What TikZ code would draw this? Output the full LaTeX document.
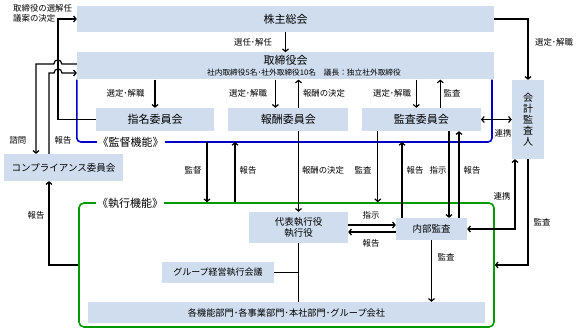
\documentclass[tikz,border=0pt]{standalone}
\usepackage{fontspec}
\setmainfont{Noto Sans CJK JP}
\usetikzlibrary{arrows.meta,positioning}
\definecolor{boxblue}{RGB}{207,221,238}
\definecolor{lineblue}{RGB}{0,0,200}
\definecolor{linegreen}{RGB}{0,153,0}

\begin{document}
\begin{tikzpicture}[x=1pt,y=-1pt,
    box/.style={fill=boxblue,inner sep=0pt,font=\fontsize{11}{12}\selectfont},
    lbl/.style={inner sep=0pt,font=\fontsize{8.4}{9.4}\selectfont},
    arr/.style={line width=1.2pt,-{Straight Barb[length=2.5pt,width=6pt]}},
    arr2/.style={line width=1.2pt,{Straight Barb[length=2.5pt,width=6pt]}-{Straight Barb[length=2.5pt,width=6pt]}},
    ln/.style={line width=1.2pt}]
    \useasboundingbox (0,0) rectangle (578,334);
    \node[box,minimum width=417pt,minimum height=26pt] (agm) at (285.5,19) {株主総会};
    \node[box,minimum width=417pt,minimum height=27pt,below=20pt of agm] (board) {};
    \node[inner sep=0pt,font=\fontsize{11}{12}\selectfont] (boardt) at (285.5,60) {取締役会};
    \node[inner sep=0pt,font=\fontsize{7.7}{8}\selectfont] (boards) at (304,72.5) {社内取締役5名･社外取締役10名　議長：独立社外取締役};
    \node[box,minimum width=118pt,minimum height=23pt] (nom) at (155,119.5) {指名委員会};
    \node[box,minimum width=120pt,minimum height=23pt,right=14pt of nom] (rem) {報酬委員会};
    \node[box,minimum width=119pt,minimum height=23pt,right=13pt of rem] (aud) {監査委員会};
    \node[box,minimum width=32pt,minimum height=79pt,align=center,font=\fontsize{10}{11}\selectfont] (acc) at (528,119.5) {会\\計\\監\\査\\人};
    \node[box,minimum width=119pt,minimum height=27pt,font=\fontsize{9.5}{11}\selectfont] (comp) at (63.5,167.5) {コンプライアンス委員会};
    \coordinate (sbl) at (77,142);
    \coordinate (sbr) at (492,142);
    \draw[lineblue,line width=1.6pt,rounded corners=4pt] (board.south west) |- (sbr) -- (sbr |- board.south);
    \node[fill=white,inner sep=1pt,font=\fontsize{11}{12}\selectfont] (supl) at (130.5,142) {《監督機能》};
    \node[draw=linegreen,line width=1.6pt,rounded corners=5pt,minimum width=415pt,minimum height=124pt] (exec) at (286.5,265) {};
    \node[fill=white,inner sep=1pt,font=\fontsize{11}{12}\selectfont] (execl) at (130,203) {《執行機能》};
    \node[box,minimum width=99pt,minimum height=31pt,align=center,font=\fontsize{9.5}{11.5}\selectfont] (ceo) at (298.5,227.5) {代表執行役\\執行役};
    \node[box,minimum width=71pt,minimum height=22pt,font=\fontsize{9.5}{11}\selectfont] (ia) at (431.5,229) {内部監査};
    \node[box,minimum width=112pt,minimum height=21pt,font=\fontsize{9}{10}\selectfont] (gem) at (218,272.5) {グループ経営執行会議};
    \node[box,minimum width=397pt,minimum height=21pt,font=\fontsize{9.2}{10}\selectfont] (dept) at (286.5,312.5) {各機能部門･各事業部門･本社部門･グループ会社};
    \coordinate (kd) at (207,142);
    \coordinate (kh) at (235,142);
    \coordinate (jpa) at (58,64);
    \coordinate (jpb) at (54,73);
    \draw[arr] (agm.south) -- (board.north);
    \draw[arr] (agm.east) -| (acc.north);
    \draw[arr] (board.south -| nom.north) -- (nom.north);
    \draw[arr] ([xshift=-13pt]rem.north |- board.south) -- ([xshift=-13pt]rem.north);
    \draw[arr] (rem.north -| ceo.north) -- (board.south -| ceo.north);
    \draw[arr] ([xshift=-5pt]aud.north |- board.south) -- ([xshift=-5pt]aud.north);
    \draw[arr] ([xshift=19pt]aud.north) -- ([xshift=19pt]aud.north |- board.south);
    \draw[arr2] (aud.east) -- (aud.east -| acc.west);
    \draw[arr] (nom.west) -| (jpa) -- (jpa |- agm.west) -- (agm.west);
    \draw[arr] (board.west |- jpa) -- ++(-15,0) .. controls +(0,-5.3) and +(0,-5.3) .. ++(-8,0) -| ([xshift=-27.5pt]comp.north);
    \draw[arr] ([xshift=-14.5pt]comp.north) |- (jpb) .. controls +(0,-5.3) and +(0,-5.3) .. ++(8,0) -- (board.west |- jpb);
    \draw[arr] (exec.west) -| ([xshift=-14.5pt]comp.south);
    \draw[arr] (kd) -- (kd |- exec.north);
    \draw[arr] (kh |- exec.north) -- (kh);
    \draw[arr] (rem.south -| ceo.north) -- (ceo.north);
    \draw[arr] ([xshift=-43.5pt]aud.south) -- ([xshift=-43.5pt]aud.south |- exec.north);
    \draw[arr] ([xshift=-29.5pt]ia.north) -- ([xshift=-29.5pt]ia.north |- sbl);
    \draw[arr] ([xshift=17.5pt]ia.north |- aud.south) -- ([xshift=17.5pt]ia.north);
    \draw[arr] ([xshift=27.5pt]ia.north) -- ([xshift=27.5pt]ia.north |- aud.south);
    \draw[arr] ([yshift=4pt]ia.west -| ceo.east) -- ([yshift=4pt]ia.west);
    \draw[arr] ([yshift=-3pt]ia.west) -- ([yshift=-3pt]ia.west -| ceo.east);
    \draw[arr2] (ia.east) -| ([xshift=-13pt]acc.south);
    \draw[arr] (acc.south) |- (exec.east);
    \draw[arr] (ia.south) -- (ia.south |- dept.north);
    \draw[ln] (ceo.south) -- (ceo.south |- dept.north);
    \draw[ln] (gem.east) -- (gem.east -| ceo.south);
    \node[lbl,anchor=west,align=left] (ltop) at (13,13.5) {取締役の選解任\\議案の決定};
    \node[lbl] (l1) at (253,42) {選任･解任};
    \node[lbl] (l2) at (554,42) {選定･解職};
    \node[lbl] (l3) at (125.5,93) {選定･解職};
    \node[lbl] (l4) at (248,93) {選定･解職};
    \node[lbl] (l5) at (324,93) {報酬の決定};
    \node[lbl] (l6) at (392,93) {選定･解職};
    \node[lbl] (l7) at (452,93) {監査};
    \node[lbl] (l8) at (503,133) {連携};
    \node[lbl] (l9) at (18,140) {諮問};
    \node[lbl] (l10) at (63,140) {報告};
    \node[lbl] (l11) at (36,215) {報告};
    \node[lbl] (l12) at (193,170) {監督};
    \node[lbl] (l13) at (248,170) {報告};
    \node[lbl] (l14) at (323,170) {報酬の決定};
    \node[lbl] (l15) at (363,170) {監査};
    \node[lbl] (l16) at (415,170) {報告};
    \node[lbl] (l17) at (438,170) {指示};
    \node[lbl] (l18) at (472,170) {報告};
    \node[lbl] (l19) at (371,215) {指示};
    \node[lbl] (l20) at (371,243) {報告};
    \node[lbl] (l21) at (502,196) {連携};
    \node[lbl] (l22) at (542,222) {監査};
    \node[lbl] (l23) at (446,257) {監査};
\end{tikzpicture}
\end{document}
